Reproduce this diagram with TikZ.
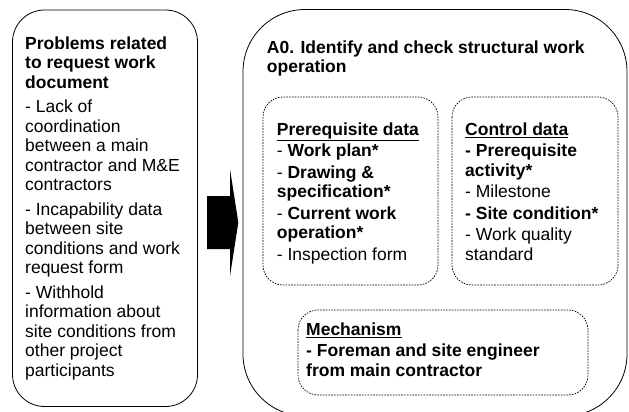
\documentclass[tikz,border=0pt]{standalone}
\usepackage{fontspec}
\setmainfont{Liberation Sans}
\newcommand\mytopstrut{\rule{0pt}{13pt}}
\begin{document}
\begin{tikzpicture}[x=1pt,y=-1pt,
  txt/.style={anchor=north west,inner sep=0pt,align=left,font=\fontsize{17.5}{19.5}\selectfont},
  solidbox/.style={draw=black,line width=0.8pt},
  dotbox/.style={draw=black,line width=0.7pt,dash pattern=on 1.6pt off 1.2pt,rounded corners=20pt}]
\useasboundingbox (0,0) rectangle (629,412);
% left box
\draw[solidbox,rounded corners=32pt] (12.5,10) rectangle (197.5,406.5);
% right box
\draw[solidbox,rounded corners=62pt] (243,9.5) rectangle (627,416);
% dotted boxes
\draw[dotbox] (263,97) rectangle (438,285);
\draw[dotbox] (452,97) rectangle (618,285);
\draw[dotbox] (298,310) rectangle (588,395);
% arrow
\fill[black] (207,196) -- (230,196) -- (230,169) -- (238.3,222.5) -- (230,276) -- (230,249) -- (207,249) -- cycle;
% texts (first baseline = y + 13)
\node[txt] (prob) at (25,36) {\mytopstrut\textbf{Problems related}\\\textbf{to request work}\\\textbf{document}\\[5pt]
- Lack of\\coordination\\between a main\\contractor and M\&E\\contractors\\[5pt]
- Incapability data\\between site\\conditions and work\\request form\\[5pt]
- Withhold\\information about\\site conditions from\\other project\\participants};
\node[txt] (a0) at (266.7,40) {\mytopstrut\textbf{A0. Identify and check structural work}\\\textbf{operation}};
\node[txt] (pre) at (276.7,122) {\mytopstrut\underline{\textbf{Prerequisite data}}\\[2pt]
- \textbf{Work plan*}\\[2pt]
- \textbf{Drawing \&}\\\textbf{specification*}\\[2pt]
- \textbf{Current work}\\\textbf{operation*}\\[2pt]
- Inspection form};
\node[txt] (ctl) at (465,122) {\mytopstrut\underline{\textbf{Control data}}\\[2pt]
\textbf{- Prerequisite}\\\textbf{activity*}\\[2pt]
- Milestone\\[2pt]
\textbf{- Site condition*}\\[2pt]
- Work quality\\standard};
\node[txt] (mech) at (306,322) {\mytopstrut\underline{\textbf{Mechanism}}\\[2pt]
\textbf{- Foreman and site engineer}\\\textbf{from main contractor}};
\end{tikzpicture}
\end{document}
